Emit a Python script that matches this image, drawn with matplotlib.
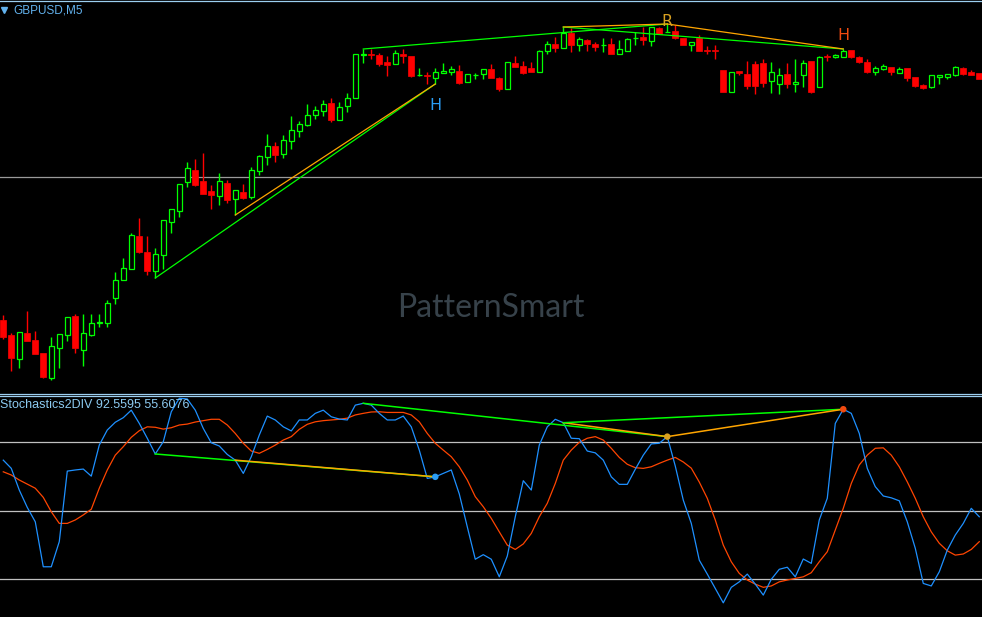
import numpy as np
import matplotlib
matplotlib.use("Agg")
import matplotlib.pyplot as plt
from matplotlib.lines import Line2D

# --- Data (GBPUSD M5, price in points above an arbitrary base) ---
opens = [80, 65, 41, 67, 60, 47, 22, 52, 65, 84,
         50, 65, 77, 77, 102, 120, 131, 164, 148, 129,
         145, 178, 189, 218, 230, 219, 209, 204, 217, 201,
         208, 203, 229, 243, 254, 246, 259, 269, 275, 285,
         289, 297, 280, 294, 302, 345, 346, 345, 338, 336,
         346, 344, 325, 325, 322, 327, 328, 329, 318, 325,
         326, 331, 322, 311, 337, 334, 332, 328, 349, 356,
         352, 367, 355, 360, 356, 355, 356, 346, 349, 362,
         363, 359, 372, 368, 369, 362, 355, 362, 350, 350,
         330, 308, 329, 326, 336, 337, 319, 316, 326, 316,
         325, 339, 313, 344, 343, 343, 350, 343, 338, 328,
         331, 333, 327, 332, 323, 315, 313, 323, 323, 325,
         332, 328, 327]
highs = [85, 67, 68, 89, 69, 47, 63, 66, 83, 86,
         86, 86, 86, 100, 128, 142, 167, 182, 164, 152,
         180, 191, 216, 238, 241, 247, 215, 227, 220, 210,
         216, 233, 245, 266, 258, 265, 284, 279, 296, 294,
         300, 302, 298, 307, 346, 351, 351, 347, 344, 350,
         351, 344, 332, 328, 332, 337, 334, 335, 326, 327,
         331, 336, 323, 338, 344, 339, 338, 350, 359, 363,
         373, 372, 363, 361, 358, 362, 362, 360, 362, 368,
         373, 373, 373, 376, 375, 362, 358, 365, 354, 355,
         330, 328, 329, 339, 339, 341, 338, 332, 337, 341,
         340, 339, 344, 346, 346, 351, 350, 344, 341, 334,
         336, 333, 333, 332, 323, 316, 325, 325, 326, 334,
         333, 330, 327]
lows = [61, 29, 32, 59, 46, 22, 20, 32, 59, 47,
        34, 64, 73, 73, 96, 120, 131, 147, 125, 122,
        131, 167, 183, 213, 214, 206, 191, 195, 197, 185,
        201, 201, 225, 235, 238, 242, 251, 263, 274, 281,
        284, 278, 280, 288, 302, 337, 341, 334, 324, 336,
        337, 323, 324, 316, 316, 327, 325, 316, 318, 321,
        321, 322, 309, 311, 333, 326, 328, 328, 346, 348,
        352, 348, 349, 349, 349, 348, 346, 346, 349, 355,
        355, 354, 366, 368, 361, 355, 349, 349, 346, 341,
        308, 308, 325, 311, 306, 313, 307, 306, 312, 308,
        313, 307, 313, 339, 342, 343, 342, 337, 327, 325,
        330, 325, 327, 319, 313, 311, 312, 316, 321, 324,
        325, 325, 321]
closes = [63, 42, 68, 59, 46, 23, 54, 66, 83, 52,
          67, 77, 78, 97, 120, 132, 165, 148, 129, 146,
          180, 191, 216, 232, 215, 206, 205, 219, 200, 210,
          202, 230, 244, 254, 245, 260, 270, 276, 285, 290,
          296, 280, 293, 302, 346, 346, 345, 336, 335, 347,
          344, 324, 325, 324, 328, 329, 331, 317, 326, 325,
          331, 322, 311, 338, 333, 327, 328, 349, 356, 352,
          367, 355, 361, 356, 353, 355, 346, 351, 361, 362,
          360, 373, 366, 368, 362, 355, 358, 349, 349.5, 349.5,
          308, 328, 327, 314, 314, 317, 328, 325, 316, 318,
          337, 308, 343, 343, 345, 349, 343, 338, 328, 332,
          334, 328, 331, 322, 314, 312, 325, 325, 326, 333,
          326, 325, 321]

# Stochastic %K (main) and %D (signal)
stoch_main = [72.2, 68.6, 59.1, 51.5, 45.2, 25.5, 25.5, 36.5, 67.4, 67.9,
              68.3, 65.2, 78.8, 85.4, 88.8, 90.8, 94.1, 88.3, 81.8, 74.9,
              80.3, 93.4, 99.3, 99.0, 94.1, 86.1, 79.8, 78.4, 74.7, 72.2,
              66.4, 73.7, 83.2, 91.5, 89.8, 86.8, 85.0, 89.8, 89.8, 92.7,
              94.1, 91.2, 90.2, 89.8, 96.3, 97.1, 96.3, 92.7, 89.8, 89.8,
              91.5, 86.8, 76.6, 64.2, 64.9, 66.4, 67.9, 57.4, 43.0, 28.8,
              30.8, 28.8, 21.1, 30.2, 47.4, 63.2, 59.1, 78.8, 86.8, 90.1,
              88.6, 81.8, 81.6, 76.2, 75.4, 72.2, 64.9, 61.6, 61.6, 68.2,
              74.4, 79.3, 79.6, 82.5, 69.6, 54.7, 44.5, 28.4, 22.3, 16.0,
              9.7, 16.5, 18.9, 22.3, 17.9, 13.1, 20.0, 24.4, 25.3, 21.1,
              28.9, 27.0, 46.0, 55.5, 88.3, 94.5, 92.7, 83.9, 68.6, 60.6,
              56.5, 55.7, 54.4, 45.2, 33.6, 18.2, 17.1, 23.3, 32.8, 39.4,
              44.5, 51.1, 47.4]
stoch_signal = [67.1, 65.7, 63.5, 61.7, 59.9, 55.9, 49.6, 44.5, 44.5, 46.0,
                48.2, 50.7, 59.9, 67.9, 74.4, 78.1, 82.2, 85.1, 86.8, 86.6,
                85.8, 86.4, 87.6, 88.0, 88.9, 89.5, 90.1, 90.1, 87.6, 83.9,
                79.6, 76.2, 75.2, 76.9, 78.8, 81.0, 82.5, 85.7, 87.9, 89.0,
                89.5, 89.8, 90.1, 90.6, 92.0, 92.7, 93.3, 93.4, 93.1, 93.1,
                93.1, 92.0, 89.0, 83.9, 79.6, 76.6, 73.7, 69.3, 63.5, 56.2,
                51.8, 46.7, 40.8, 35.0, 33.1, 35.5, 40.1, 47.4, 53.3, 62.0,
                72.2, 76.6, 80.0, 81.8, 82.5, 81.0, 77.4, 73.4, 70.4, 68.9,
                68.6, 69.3, 70.8, 72.2, 73.4, 71.4, 68.7, 62.6, 55.5, 46.0,
                35.0, 27.7, 22.6, 19.7, 17.9, 16.5, 17.1, 18.9, 19.7, 20.4,
                21.1, 22.9, 27.7, 32.1, 41.6, 51.1, 62.0, 70.1, 74.4, 77.4,
                77.6, 74.4, 69.3, 62.7, 55.5, 47.4, 40.8, 35.8, 32.5, 30.6,
                31.1, 33.1, 36.5]
stoch_levels = [20, 50, 80]
price_level = 223

# divergence lines: (start bar, end bar, anchor, colour)
price_lines = [(19, 54, "low", "#00ff00"), (29, 54, "low", "#ffa500"),
               (45, 83, "high", "#00ff00"), (70, 105, "high", "#00ff00"),
               (70, 83, "high", "#ffa500"), (83, 105, "high", "#ffa500")]
stoch_lines = [(19, 54, "#00ff00"), (29, 54, "#ffa500"),
               (45, 83, "#00ff00"), (70, 83, "#ffa500"),
               (70, 105, "#00ff00"), (83, 105, "#ffa500")]
# pattern marks: (bar, label, colour)
marks = [(54, "H", "#2a9df4"), (83, "R", "#d8a020"), (105, "H", "#f04a10")]
label_prices = [294, 379, 364]

W, H = 982, 617
BG = "black"

fig = plt.figure(figsize=(W / 100, H / 100), dpi=100, facecolor=BG)
ax = fig.add_axes([0, (H - 393) / H, 1, 391 / H])
ax2 = fig.add_axes([0, 0, 1, 221 / H])
for a in (ax, ax2):
    a.set_facecolor(BG)
    a.set_axis_off()
    a.set_xlim(-0.41, 122.34)

o = np.array(opens, float)
hi = np.array(highs, float)
lo = np.array(lows, float)
c = np.array(closes, float)
x = np.arange(len(o))
bull = c >= o
top = np.maximum(o, c)
bot = np.minimum(o, c)
bw = 0.62

# --- Candles ---
ax.axhline(price_level, color="#9a9a9a", lw=0.9, zorder=1)
ax.vlines(x, top, hi, color=np.where(bull, "#00ff00", "#ff0000"), lw=1, zorder=2)
ax.vlines(x, lo, bot, color=np.where(bull, "#00ff00", "#ff0000"), lw=1, zorder=2)
ax.bar(x[bull], (top - bot)[bull], bottom=bot[bull], width=bw,
       facecolor=BG, edgecolor="#00ff00", linewidth=0.9, zorder=3)
ax.bar(x[~bull], (top - bot)[~bull], bottom=bot[~bull], width=bw + 0.1,
       facecolor="#ff0000", edgecolor="#ff0000", linewidth=0.5, zorder=3)
ax.set_ylim(7, 398)

for s, e, anchor, col in price_lines:
    src = hi if anchor == "high" else lo
    ax.plot([s, e], [src[s], src[e]], color=col, lw=0.9, zorder=4)

for (b, txt, col), yp in zip(marks, label_prices):
    ax.text(b, yp, txt, color=col, fontsize=11.5, ha="center", va="center", zorder=5)

ax.text(0.5, 1 - (308 - 2) / 391, "PatternSmart", transform=ax.transAxes,
        color="#37424a", fontsize=23, family="Lato", ha="center", va="center",
        zorder=0)

# --- Stochastic sub-window ---
for lv in stoch_levels:
    ax2.axhline(lv, color="#c0c0c0", lw=0.9, zorder=1)
ax2.plot(x, stoch_signal, color="#ff4500", lw=0.9, zorder=2)
ax2.plot(x, stoch_main, color="#1e90ff", lw=0.9, zorder=3)
km = np.array(stoch_main)
for s, e, col in stoch_lines:
    ax2.plot([s, e], [km[s], km[e]], color=col, lw=1.1, zorder=4)
for b, txt, col in marks:
    ax2.scatter(b, km[b], s=22, color=col, zorder=5, edgecolors="none")
ax2.set_ylim(3.5, 100.3)

# --- Window chrome ---
sep = "#9ccff0"
for yp in (0.5, 393.5, 395.5):
    fig.add_artist(Line2D([0, 1], [1 - yp / H, 1 - yp / H], color=sep, lw=0.9,
                          transform=fig.transFigure))
fig.text(13 / W, 1 - 10.5 / H, "GBPUSD,M5", color="#62b2ee", fontsize=8.5,
         family="Liberation Sans", va="center", ha="left")
fig.add_artist(Line2D([4 / W], [1 - 10 / H], marker="v", markersize=4,
                      color="#62b2ee", transform=fig.transFigure))
fig.text(0, 1 - 405 / H, "Stochastics2DIV 92.5595 55.6076", color="#8ccaf0",
         fontsize=9, family="Liberation Sans", va="center", ha="left")

fig.savefig("out.png", dpi=100, facecolor=BG)
